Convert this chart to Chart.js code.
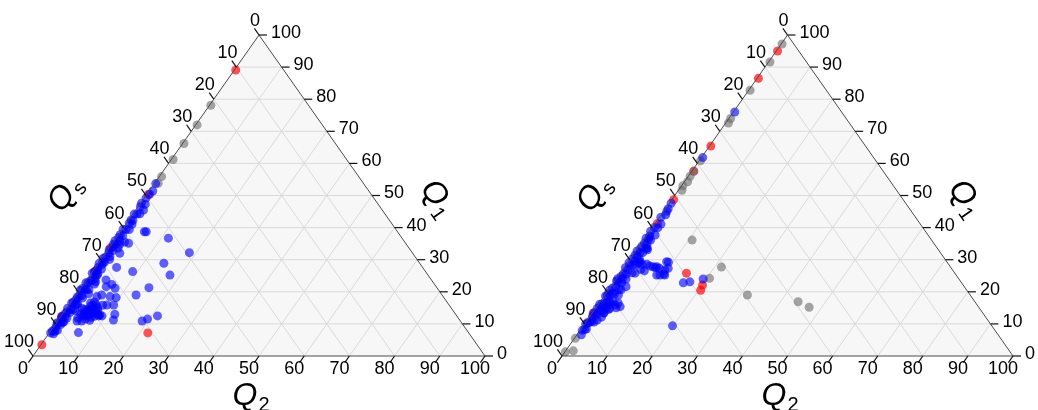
<!DOCTYPE html>
<html>
<head>
<meta charset="utf-8">
<script src="https://cdn.jsdelivr.net/npm/chart.js@4.4.1/dist/chart.umd.min.js"></script>
<style>
  html, body { margin: 0; padding: 0; background: #ffffff; }
  #wrap { position: relative; width: 1038px; height: 410px; overflow: hidden; }
  .panel { position: absolute; top: 0; width: 519px; height: 410px; }
</style>
</head>
<body>
<div id="wrap">
  <div class="panel" style="left:0px"><canvas id="leftChart" width="519" height="410"></canvas></div>
  <div class="panel" style="left:519px"><canvas id="rightChart" width="519" height="410"></canvas></div>
</div>
<script>
// Every composition is stored as [Q2, Qs] in percent; Q1 = 100 - Q2 - Qs.
const tickValues = [0, 10, 20, 30, 40, 50, 60, 70, 80, 90, 100];
const gridValues = [10, 20, 30, 40, 50, 60, 70, 80, 90];

// ---- left diagram ----
const leftBlueEdge = [
  [0.3,46.0],[0.8,47.8],[0.4,50.4],[1.2,51.5],[0.5,53.0],[1.5,54.2],[0.3,55.5],[1.0,56.8],
  [0.6,58.0],[1.6,59.0],[0.2,60.3],[1.1,61.4],[0.5,62.6],[1.8,63.5],[0.4,64.8],[1.2,66.0],
  [0.7,67.2],[1.9,68.0],[0.3,69.3],[1.0,70.5],[0.6,71.8],[1.5,72.8],[0.2,74.0],[1.2,75.2],
  [0.8,76.5],[2.0,77.3],[0.4,78.6],[1.4,79.8],[0.6,81.0],[1.8,82.0],[0.3,83.2],[1.1,84.4],
  [0.7,85.6],[1.6,86.6],[0.4,87.8],[1.2,89.0],[0.5,90.2],[1.0,91.3],[0.3,92.5],[1.4,88.2],
  [0.9,80.4],[1.3,73.5],[0.8,65.3],[1.4,57.6],[0.9,69.8],[2.3,74.6],[2.6,78.0],[2.2,83.6],
  [2.5,62.0],[1.7,52.8],
  [0.6,49.0],[0.2,52.2],[0.9,54.9],[0.5,57.1],[0.9,59.7],[0.4,61.8],[1.3,62.9],[0.2,63.9],
  [0.9,64.3],[0.3,66.6],[1.5,67.5],[0.6,68.6],[1.2,69.6],[0.2,70.9],[1.6,71.3],[0.8,72.4],
  [0.5,73.3],[1.7,74.3],[0.9,75.8],[0.3,76.9],[1.5,77.9],[1.0,78.2],[0.2,79.3],[1.9,80.0],
  [0.8,81.6],[1.3,82.6],[0.5,82.7],[1.6,83.9],[0.2,84.9],[1.4,85.1],[0.5,86.2],[1.0,86.9],
  [0.2,87.4],[1.5,87.8],[0.8,88.6],[0.2,89.5],[1.4,90.6],[0.7,91.0],[0.4,91.8],[1.1,92.0]
];
const leftBlueInner = [
  [5.3,56.0],[5.7,55.6],[11.6,51.7],[18.5,49.3],[3.6,61.3],[3.2,64.8],[2.0,64.4],[14.5,56.6],
  [17.7,57.1],[4.7,67.7],[8.9,64.8],[15.0,63.7],[13.3,67.7],[1.6,73.2],[2.4,75.2],[4.3,72.0],
  [5.4,73.0],[6.3,71.4],[7.6,71.3],[9.3,72.5],[7.8,73.7],[5.7,75.3],[4.9,76.6],[8.4,75.7],
  [11.6,75.4],[12.2,76.6],[21.3,66.2],[19.6,68.9],[18.7,70.4],[4.3,84.8],[5.3,83.8],[6.4,86.3],
  [8.4,78.8],[9.9,74.2],[9.0,78.5],[1.6,82.3],
  [4.5,79.0],[5.0,79.5],[4.2,81.3],[5.5,80.5],[6.5,80.0],[6.8,78.2],[6.0,78.0],[5.0,82.5],
  [6.8,81.2],[7.8,79.2],[3.5,81.7],[4.0,84.2],[4.8,82.0],[7.5,76.7],[8.3,79.2],[5.2,78.0],
  [5.8,82.7],[7.2,78.6],
  [5.6,79.9],[6.2,80.6],[4.9,80.8],[5.9,81.6],[6.9,79.6],[4.6,82.6],[7.4,80.2],[5.4,78.8],
  [6.4,78.9],[3.9,82.9],[7.0,81.9],[5.1,81.1]
];
const leftRed = [[0.3,10.6],[0.4,49.3],[0.3,66.0],[0.5,73.0],[0.2,87.5],[0.2,96.3],[21.8,71.0]];
const leftGray = [[0.3,21.6],[0.3,27.7],[0.3,33.5],[0.4,38.4],[0.5,43.6],[0.8,45.4],[0.3,89.4]];

// ---- right diagram ----
const rightBlueEdge = [
  [0.3,23.7],[0.3,37.9],[0.4,52.0],[0.6,53.5],[1.0,55.0],[0.3,56.5],[1.4,57.5],[0.5,59.5],
  [1.8,60.5],[0.8,61.8],[0.3,63.0],[1.5,63.8],[2.4,64.5],[0.6,65.2],[1.8,66.0],[0.3,67.0],
  [1.2,67.8],[2.5,68.5],[0.5,69.2],[1.6,70.0],[0.9,71.0],[2.6,71.5],[0.3,72.2],[1.5,73.0],
  [2.2,73.8],[0.7,74.5],[1.8,75.3],[0.4,76.2],[2.8,76.6],[1.2,77.3],[0.6,78.2],[2.0,78.8],
  [1.0,79.8],[2.9,80.2],[0.3,81.0],[1.6,81.7],[2.4,82.5],[0.8,83.0],[1.9,83.9],[0.4,84.8],
  [2.7,85.2],[1.3,85.9],[0.6,87.0],[1.8,87.6],[0.9,88.6],[0.3,89.8],[1.2,90.4],[0.5,91.5],
  [1.0,92.4],[2.2,86.6],[3.0,78.0],[3.2,82.0],[2.0,69.5],[1.3,58.8],[0.7,54.2],[3.4,75.0],
  [2.6,84.0],
  [0.2,60.9],[1.0,62.6],[0.7,64.1],[1.2,66.6],[0.5,68.1],[1.4,69.0],[0.3,70.6],[1.1,72.0],
  [0.8,73.6],[1.4,74.6],[0.3,75.6],[1.0,76.0],[2.3,77.0],[0.3,79.2],[1.5,79.0],[0.7,80.6],
  [2.1,81.0],[1.1,82.6],[0.3,83.6],[1.4,84.4],[0.9,85.6],[0.3,86.4],[1.2,88.0],[0.6,89.2],
  [0.9,90.8]
];
const rightBlueBranch = [
  [2.6,68.0],[4.5,66.9],[6.3,65.9],[8.0,64.7],[9.4,63.8],[9.0,61.8],[9.8,64.7],[8.4,66.4],
  [3.3,70.9],[1.8,64.6],[1.6,62.3],[8.5,62.1],[9.9,62.8],[7.1,65.1],[9.1,65.7],[10.2,64.6],
  [2.1,64.3],[3.5,68.0],[5.5,66.5],[7.0,65.5],[2.2,67.8],[5.0,68.5],[4.0,69.0],
  [5.2,79.4],[3.8,80.3],[2.4,81.2],[4.5,80.5],[4.2,79.3],[3.0,82.5],[2.0,82.8],[2.5,84.0]
];
const rightBlueInner = [[15.5,61.7],[16.8,60.1],[19.3,56.7],[19.8,70.8]];
const rightRed = [
  [0.3,4.7],[0.3,13.2],[0.3,34.3],[0.4,42.0],[0.4,50.9],[0.5,58.2],[0.3,86.2],[0.8,87.3],
  [14.7,59.5],[20.1,57.8],[20.5,59.0]
];
const rightGray = [
  [0.2,2.6],[0.3,8.1],[0.3,16.9],[0.4,25.6],[0.6,26.8],[0.3,38.9],[0.5,42.0],[0.4,43.6],
  [0.7,45.0],[0.3,46.7],[0.8,47.6],[0.8,62.0],[0.6,66.0],[0.7,76.0],[0.5,80.0],[0.6,84.0],
  [0.4,89.0],[0.2,94.3],[1.7,96.7],[0.1,98.6],
  [10.8,53.1],[20.6,55.2],[21.5,50.8],[31.6,49.4],[43.9,39.2],[47.2,37.6]
];

const BLUE = 'rgba(0,0,255,0.62)';
const RED = 'rgba(255,0,0,0.68)';
const GRAY = 'rgba(105,105,105,0.6)';
const FONT = '"Liberation Sans", Arial, Helvetica, sans-serif';

// ternary [Q2, Qs] -> cartesian (x along the Q2 base, y = Q1 height)
function toXY(pair) {
  const q2 = pair[0], qs = pair[1], q1 = 100 - q2 - qs;
  return { x: q2 + q1 / 2, y: q1 };
}

function pixel(chart, q2, q1) {
  return {
    x: chart.scales.x.getPixelForValue(q2 + q1 / 2),
    y: chart.scales.y.getPixelForValue(q1)
  };
}

function line(ctx, a, b) {
  ctx.beginPath();
  ctx.moveTo(a.x, a.y);
  ctx.lineTo(b.x, b.y);
  ctx.stroke();
}

function drawTitle(ctx, cx, cy, angle, main, sub) {
  ctx.save();
  ctx.translate(cx, cy);
  ctx.rotate(angle);
  ctx.fillStyle = '#000';
  ctx.textBaseline = 'alphabetic';
  ctx.textAlign = 'left';
  ctx.font = 'italic 32px ' + FONT;
  const w = ctx.measureText(main).width;
  const capH = 23;
  ctx.fillText(main, -w / 2, capH / 2);
  ctx.font = '20px ' + FONT;
  ctx.fillText(sub, w / 2 + 1, capH / 2 + 6);
  ctx.restore();
}

const ternaryPlugin = {
  id: 'ternaryFrame',
  beforeDatasetsDraw(chart) {
    const ctx = chart.ctx;
    const L = pixel(chart, 0, 0), R = pixel(chart, 100, 0), T = pixel(chart, 0, 100);
    ctx.save();
    ctx.fillStyle = '#f7f7f7';
    ctx.beginPath();
    ctx.moveTo(L.x, L.y); ctx.lineTo(R.x, R.y); ctx.lineTo(T.x, T.y); ctx.closePath();
    ctx.fill();
    ctx.strokeStyle = '#dadada';
    ctx.lineWidth = 1;
    gridValues.forEach(k => {
      line(ctx, pixel(chart, 0, k), pixel(chart, 100 - k, k));        // Q1 = k
      line(ctx, pixel(chart, k, 0), pixel(chart, k, 100 - k));        // Q2 = k
      line(ctx, pixel(chart, 100 - k, 0), pixel(chart, 0, 100 - k));  // Qs = k
    });
    ctx.restore();
  },
  afterDatasetsDraw(chart) {
    const ctx = chart.ctx;
    const L = pixel(chart, 0, 0), R = pixel(chart, 100, 0), T = pixel(chart, 0, 100);
    ctx.save();
    ctx.strokeStyle = '#4a4a4a';
    ctx.lineWidth = 1;
    ctx.beginPath();
    ctx.moveTo(L.x, L.y); ctx.lineTo(R.x, R.y); ctx.lineTo(T.x, T.y); ctx.closePath();
    ctx.stroke();

    // unit directions of the tick marks
    const le = Math.hypot(T.x - L.x, T.y - L.y);
    const upLeft = { x: (T.x - L.x) / le, y: (T.y - L.y) / le };         // left edge direction
    const re = Math.hypot(R.x - T.x, R.y - T.y);
    const downRight = { x: (R.x - T.x) / re, y: (R.y - T.y) / re };      // right edge direction
    const TL = 8;

    ctx.strokeStyle = '#111';
    ctx.lineWidth = 1.2;
    ctx.fillStyle = '#000';
    ctx.font = '18px ' + FONT;
    tickValues.forEach(k => {
      // Q2 along the base
      const b = pixel(chart, k, 0);
      line(ctx, b, { x: b.x - upLeft.x * TL, y: b.y - upLeft.y * TL });
      ctx.textAlign = 'center'; ctx.textBaseline = 'middle';
      ctx.fillText(String(k), b.x - 10, b.y + 13);
      // Qs along the left edge
      const l = pixel(chart, 0, 100 - k);
      line(ctx, l, { x: l.x - downRight.x * TL, y: l.y - downRight.y * TL });
      ctx.textAlign = 'right'; ctx.textBaseline = 'middle';
      ctx.fillText(String(k), l.x + 1, l.y - 14);
      // Q1 along the right edge
      const r = pixel(chart, 100 - k, k);
      line(ctx, r, { x: r.x + TL, y: r.y });
      ctx.textAlign = 'left'; ctx.textBaseline = 'middle';
      ctx.fillText(String(k), r.x + 12, r.y - 2);
    });

    const aLeft = Math.atan2(T.y - L.y, T.x - L.x);
    const aRight = Math.atan2(R.y - T.y, R.x - T.x);
    drawTitle(ctx, L.x + 27, L.y - 159, aLeft, 'Q', 's');
    drawTitle(ctx, R.x - 49, R.y - 164, aRight, 'Q', '1');
    drawTitle(ctx, L.x + 212, L.y + 37, 0, 'Q', '2');
    ctx.restore();
  }
};

function makeSet(pairs, color) {
  return {
    data: pairs.map(toXY),
    backgroundColor: color,
    borderWidth: 0,
    pointRadius: 4.5,
    pointHoverRadius: 4.5,
    clip: false
  };
}

function makeChart(id, pad, sets) {
  return new Chart(document.getElementById(id), {
    type: 'scatter',
    data: { datasets: sets },
    options: {
      responsive: false,
      animation: false,
      events: [],
      layout: { padding: pad },
      scales: {
        x: { type: 'linear', min: 0, max: 100, display: false },
        y: { type: 'linear', min: 0, max: 100, display: false }
      },
      plugins: { legend: { display: false }, tooltip: { enabled: false } }
    },
    plugins: [ternaryPlugin]
  });
}

makeChart('leftChart', { left: 33, right: 34, top: 35, bottom: 54 }, [
  makeSet(leftBlueEdge, BLUE),
  makeSet(leftBlueInner, BLUE),
  makeSet(leftGray, GRAY),
  makeSet(leftRed, RED)
]);

makeChart('rightChart', { left: 43, right: 25, top: 35, bottom: 54 }, [
  makeSet(rightBlueEdge, BLUE),
  makeSet(rightBlueBranch, BLUE),
  makeSet(rightBlueInner, BLUE),
  makeSet(rightGray, GRAY),
  makeSet(rightRed, RED)
]);
</script>
</body>
</html>
